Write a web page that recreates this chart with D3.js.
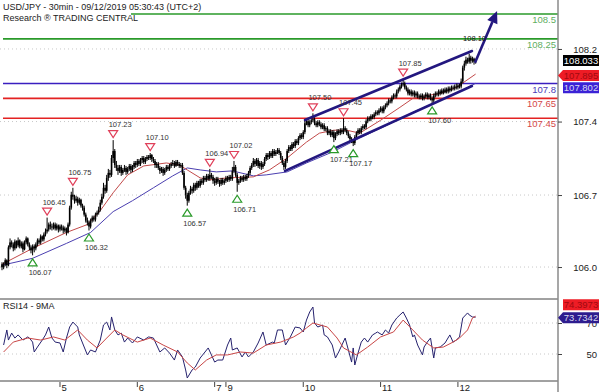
<!DOCTYPE html>
<html>
<head>
<meta charset="utf-8">
<script src="https://cdn.jsdelivr.net/npm/d3@7"></script>
<style>
  body { margin: 0; background: #fff; }
  svg { display: block; font-family: "Liberation Sans", Arial, sans-serif; }
</style>
</head>
<body>
<svg id="chart" width="600" height="392"></svg>
<script>
// ---- data (USD/JPY 30min, bar 0 = first candle) ----
var closes = [
  105.95,105.98,106.02,105.97,106.15,106.20,106.18,106.14,106.21,106.17,
  106.22,106.16,106.19,106.13,106.20,106.24,106.18,106.15,106.12,106.16,
  106.14,106.18,106.22,106.20,106.26,106.23,106.28,106.31,106.33,106.38,
  106.36,106.35,106.38,106.34,106.37,106.33,106.36,106.35,106.32,106.34,
  106.30,106.38,106.55,106.68,106.66,106.62,106.64,106.60,106.63,106.57,
  106.55,106.48,106.42,106.40,106.36,106.42,106.45,106.43,106.48,106.50,
  106.53,106.60,106.66,106.75,106.72,106.85,106.90,106.88,107.05,107.12,
  106.98,106.95,106.92,106.96,106.90,106.93,106.95,106.91,106.94,106.97,
  106.93,106.96,107.00,106.98,107.02,106.99,107.03,107.05,107.01,107.04,
  107.06,107.05,107.08,107.04,107.02,106.98,106.99,106.95,106.92,106.94,
  106.90,106.93,106.96,106.94,106.97,106.99,107.00,106.97,107.01,106.99,
  106.97,106.98,106.90,106.75,106.68,106.62,106.70,106.74,106.72,106.78,
  106.75,106.80,106.77,106.82,106.80,106.85,106.83,106.87,106.84,106.88,
  106.86,106.82,106.80,106.84,106.81,106.79,106.83,106.80,106.82,106.85,
  106.83,106.86,106.84,106.92,106.96,106.88,106.80,106.82,106.85,106.83,
  106.86,106.84,106.87,106.90,106.95,106.98,107.02,106.99,107.03,106.97,
  107.00,106.96,106.99,107.04,107.08,107.06,107.10,107.07,107.12,107.09,
  107.11,107.13,107.10,107.05,107.00,106.96,107.02,107.12,107.16,107.14,
  107.19,107.17,107.22,107.20,107.25,107.28,107.26,107.31,107.40,107.42,
  107.38,107.41,107.43,107.44,107.40,107.38,107.41,107.39,107.36,107.38,
  107.34,107.35,107.30,107.32,107.28,107.31,107.25,107.29,107.32,107.30,
  107.33,107.31,107.35,107.33,107.30,107.27,107.24,107.22,107.20,107.26,
  107.30,107.33,107.31,107.35,107.37,107.36,107.42,107.45,107.44,107.47,
  107.46,107.49,107.51,107.50,107.53,107.55,107.52,107.56,107.58,107.60,
  107.63,107.62,107.66,107.68,107.67,107.72,107.74,107.77,107.79,107.80,
  107.76,107.74,107.70,107.72,107.69,107.71,107.68,107.70,107.67,107.66,
  107.68,107.65,107.67,107.69,107.66,107.68,107.65,107.63,107.68,107.70,
  107.69,107.72,107.70,107.73,107.71,107.74,107.72,107.75,107.73,107.76,
  107.75,107.77,107.76,107.78,107.77,107.82,107.96,108.00,108.04,108.02,
  108.06,108.03,108.05,108.02,108.033
];
var highs = [
  106.00,106.00,106.04,106.03,106.17,106.24,106.22,106.20,106.23,106.22,
  106.25,106.23,106.21,106.21,106.22,106.26,106.25,106.20,106.17,106.18,
  106.18,106.20,106.24,106.24,106.28,106.27,106.30,106.34,106.45,106.40,
  106.41,106.39,106.40,106.40,106.39,106.38,106.38,106.38,106.37,106.36,
  106.35,106.40,106.57,106.71,106.75,106.68,106.67,106.66,106.65,106.64,
  106.59,106.57,106.50,106.45,106.42,106.44,106.47,106.47,106.50,106.52,
  106.56,106.63,106.69,106.80,106.78,106.88,106.94,106.93,107.08,107.23,
  107.14,107.02,106.98,106.98,106.98,106.95,106.98,106.97,106.96,106.99,
  106.99,106.98,107.02,107.02,107.04,107.04,107.05,107.07,107.07,107.06,
  107.08,107.08,107.10,107.09,107.06,107.04,107.01,107.01,106.97,106.96,
  106.96,106.95,106.98,106.98,106.99,107.01,107.03,107.02,107.03,107.03,
  107.01,107.00,107.00,106.92,106.77,106.70,106.72,106.77,106.76,106.80,
  106.80,106.82,106.82,106.84,106.84,106.87,106.87,106.89,106.89,106.94,
  106.90,106.88,106.85,106.86,106.86,106.83,106.85,106.85,106.84,106.87,
  106.87,106.88,106.88,106.96,107.02,106.98,106.90,106.84,106.87,106.87,
  106.88,106.88,106.89,106.92,106.97,107.00,107.05,107.04,107.05,107.05,
  107.02,107.02,107.01,107.06,107.10,107.10,107.12,107.12,107.14,107.14,
  107.13,107.15,107.15,107.12,107.07,107.02,107.04,107.14,107.18,107.18,
  107.21,107.21,107.24,107.24,107.27,107.30,107.30,107.33,107.43,107.45,
  107.44,107.43,107.45,107.50,107.46,107.42,107.43,107.43,107.41,107.40,
  107.40,107.37,107.37,107.34,107.34,107.33,107.33,107.31,107.34,107.34,
  107.35,107.35,107.45,107.37,107.35,107.32,107.29,107.26,107.24,107.28,
  107.32,107.35,107.35,107.37,107.39,107.39,107.44,107.47,107.47,107.49,
  107.49,107.51,107.53,107.53,107.55,107.57,107.57,107.58,107.60,107.62,
  107.65,107.65,107.68,107.70,107.70,107.74,107.76,107.79,107.81,107.85,
  107.82,107.78,107.76,107.74,107.74,107.73,107.73,107.72,107.72,107.69,
  107.70,107.70,107.69,107.71,107.71,107.70,107.70,107.67,107.70,107.72,
  107.72,107.74,107.74,107.75,107.75,107.76,107.76,107.77,107.77,107.78,
  107.78,107.79,107.80,107.80,107.80,107.85,107.98,108.03,108.07,108.06,
  108.10,108.08,108.07,108.06,108.05
];
var lows = [
  105.92,105.93,105.96,105.94,105.96,106.13,106.15,106.11,106.12,106.14,
  106.15,106.14,106.14,106.10,106.12,106.18,106.16,106.12,106.09,106.07,
  106.10,106.12,106.16,106.18,106.18,106.21,106.21,106.26,106.29,106.31,
  106.33,106.32,106.33,106.32,106.32,106.30,106.31,106.32,106.29,106.30,
  106.27,106.29,106.36,106.53,106.63,106.59,106.60,106.57,106.58,106.55,
  106.52,106.46,106.40,106.37,106.32,106.34,106.40,106.41,106.41,106.46,
  106.48,106.51,106.58,106.64,106.69,106.70,106.82,106.85,106.86,107.00,
  106.95,106.92,106.88,106.90,106.87,106.88,106.91,106.88,106.89,106.92,
  106.90,106.91,106.94,106.95,106.96,106.97,106.97,107.00,106.99,106.99,
  107.02,107.03,107.03,107.01,107.00,106.95,106.95,106.93,106.89,106.90,
  106.87,106.88,106.91,106.92,106.92,106.95,106.97,106.95,106.96,106.97,
  106.95,106.95,106.88,106.73,106.64,106.57,106.60,106.68,106.69,106.70,
  106.72,106.73,106.75,106.75,106.78,106.78,106.81,106.81,106.82,106.82,
  106.84,106.79,106.77,106.78,106.79,106.76,106.77,106.78,106.78,106.80,
  106.81,106.81,106.82,106.82,106.90,106.86,106.71,106.78,106.80,106.81,
  106.81,106.82,106.82,106.85,106.88,106.93,106.96,106.96,106.97,106.95,
  106.94,106.93,106.94,106.97,107.02,107.03,107.04,107.05,107.05,107.07,
  107.07,107.09,107.08,107.03,106.98,106.93,106.94,107.00,107.10,107.12,
  107.12,107.15,107.15,107.18,107.18,107.23,107.24,107.24,107.29,107.38,
  107.36,107.36,107.39,107.41,107.38,107.36,107.36,107.37,107.34,107.34,
  107.32,107.32,107.28,107.28,107.26,107.26,107.21,107.23,107.27,107.28,
  107.28,107.29,107.29,107.31,107.28,107.25,107.22,107.20,107.17,107.18,
  107.24,107.28,107.29,107.29,107.33,107.34,107.34,107.40,107.42,107.42,
  107.44,107.44,107.47,107.48,107.48,107.51,107.50,107.50,107.54,107.56,
  107.58,107.60,107.60,107.64,107.65,107.65,107.70,107.72,107.75,107.77,
  107.74,107.72,107.68,107.68,107.67,107.67,107.66,107.66,107.65,107.64,
  107.64,107.63,107.63,107.65,107.64,107.64,107.63,107.60,107.61,107.66,
  107.67,107.67,107.68,107.69,107.69,107.70,107.70,107.70,107.71,107.72,
  107.73,107.73,107.74,107.74,107.75,107.75,107.80,107.93,107.98,108.00,
  108.00,108.00,108.01,107.99,108.00
];
var firstOpen = 105.98;

// moving averages (red = fast, blue = slow), sampled along the picture
var maFastBar = [0,19,40,53,61,69,78,88,102,110,115,123,129,140,156,166,177,189,197,206,214,222,235,247,255,264,272,282,294];
var maFastVal = [105.98,106.14,106.30,106.38,106.52,106.70,106.88,106.97,107.00,106.98,106.93,106.85,106.83,106.85,106.86,106.93,107.05,107.21,107.30,107.33,107.33,107.30,107.43,107.56,107.65,107.68,107.70,107.76,107.895];
var maSlowBar = [0,19,40,55,69,81,94,106,115,123,133,143,156,164,177,189,205,222,239,255,272,283,294];
var maSlowVal = [105.97,106.04,106.19,106.30,106.51,106.62,106.75,106.87,106.95,106.93,106.91,106.92,106.87,106.88,106.91,107.00,107.11,107.25,107.38,107.51,107.63,107.71,107.802];

// key levels
var levelVals = [108.5, 108.25, 107.8, 107.65, 107.45];
var levelLabels = ['108.5', '108.25', '107.8', '107.65', '107.45'];
var levelKinds = ['res', 'res', 'pivot', 'sup', 'sup'];

// swing highs / lows
var pivotHighBar = [28, 44, 69, 92, 129, 144, 193, 212, 249];
var pivotHighVal = [106.45, 106.75, 107.23, 107.10, 106.94, 107.02, 107.50, 107.45, 107.85];
var pivotLowBar = [19, 54, 115, 146, 206, 218, 267];
var pivotLowVal = [106.07, 106.32, 106.57, 106.71, 107.21, 107.17, 107.60];
var lastHighBar = 289, lastHighVal = 108.10;

// channel and target arrow [bar, price]
var channelUpper = [[188.1, 107.433], [291.7, 108.127]];
var channelLower = [[175.7, 106.92], [291.7, 107.775]];
var targetArrow = [[293.6, 108.01], [307.3, 108.53]];

// axes
var priceTicks = [108.148, 107.417, 106.677, 105.952];
var priceTickLabels = ['108.2', '107.4', '106.7', '106.0'];
var rsiTicks = [70, 50];
var rsiTickLabels = ['70', '50'];
var dayBars = [36, 84, 132, 139, 187, 235, 283];
var dayLabels = ['5', '6', '7', '9', '10', '11', '12'];

// RSI14 and its 9MA, sampled along the picture
var rsiBar = [1,3,4,6,8,10,13,16,17,19,20,22,25,27,29,31,33,36,38,40,42,44,47,48,50,53,55,58,61,63,65,67,68,70,72,74,76,78,81,84,88,91,94,96,98,101,104,107,109,112,114,115,118,120,123,126,128,130,132,134,137,140,142,143,146,149,151,153,156,159,162,164,168,169,171,174,176,179,182,185,187,189,191,193,194,196,199,200,202,205,207,209,211,213,215,217,218,219,221,223,225,227,230,232,233,236,238,240,242,245,247,249,251,253,255,256,258,261,262,264,266,268,269,272,275,278,280,282,284,286,289,290,292,294];
var rsiVal = [55.8,65.5,59.0,63.5,60.3,62.3,59.0,61.0,60.3,57.7,51.3,54.5,59.0,62.3,67.4,60.3,57.7,57.1,51.3,60.3,67.4,70.6,67.4,62.3,57.1,49.4,52.6,51.3,59.0,68.7,70.6,65.5,73.9,65.5,62.3,63.5,57.7,60.3,57.1,61.0,59.0,61.0,60.3,55.8,51.3,53.9,50.6,46.1,52.6,48.1,39.7,34.5,39.7,41.6,47.4,51.3,53.9,49.4,44.8,46.1,46.1,55.8,60.3,52.6,53.9,48.1,51.3,48.1,51.3,57.1,64.2,55.8,57.7,57.1,65.5,65.5,55.8,61.0,67.4,66.8,64.2,71.9,77.1,80.3,70.0,67.4,68.7,62.3,61.0,55.8,47.4,51.3,55.8,60.3,52.6,44.8,53.9,42.9,50.6,57.7,60.3,57.7,62.3,63.5,64.2,62.3,65.5,63.5,68.7,73.2,75.2,77.1,73.2,68.7,61.0,62.3,55.8,49.4,54.5,57.7,60.3,47.4,53.9,54.5,57.1,62.3,57.7,59.0,61.0,73.2,76.5,75.2,73.9,73.7342];
var rsiMaBar = [1,7,16,24,32,39,47,53,59,65,70,75,84,92,100,109,115,120,127,133,140,148,156,164,173,181,185,189,193,202,208,212,220,227,235,243,249,255,261,268,274,280,284,289,292,294];
var rsiMaVal = [51.3,57.7,60.3,59.0,61.0,59.0,65.5,59.0,53.9,60.3,65.5,62.3,57.7,60.3,55.8,51.3,44.2,39.7,46.1,49.4,49.4,51.3,50.6,55.8,57.7,61.0,63.5,66.8,70.0,67.4,60.3,53.9,49.4,54.5,61.0,64.2,71.9,65.5,59.0,53.9,54.5,57.7,60.3,65.5,73.2,74.3973];

// ---- layout ----
var svg = d3.select('#chart'),
  axisX = 558,
  x = d3.scaleLinear().domain([0, 294]).range([2, 2 + 294 * 1.611]),
  y = d3.scaleLinear().domain([105.9, 108.5]).range([272.2, 14]),
  yR = d3.scaleLinear().domain([50, 70]).range([354, 323]),
  levelColor = { res: '#2a9a2a', pivot: '#3a1fc0', sup: '#e32222' },
  levelText = { res: '#5fae5f', pivot: '#4a3ab8', sup: '#d44848' },
  navy = '#23177f';

// dotted grid
svg.append('g').selectAll('line').data(priceTicks).enter().append('line')
  .attr('x1', 0).attr('x2', axisX).attr('y1', (d) => y(d)).attr('y2', (d) => y(d))
  .attr('stroke', '#c8c8c8').attr('stroke-dasharray', '1,3');
svg.append('g').selectAll('line').data(rsiTicks).enter().append('line')
  .attr('x1', 0).attr('x2', axisX).attr('y1', (d) => yR(d)).attr('y2', (d) => yR(d))
  .attr('stroke', '#c8c8c8').attr('stroke-dasharray', '1,3');

// key levels
var lv = svg.append('g');
lv.selectAll('line').data(levelVals).enter().append('line')
  .attr('x1', 3).attr('x2', axisX).attr('y1', (d) => y(d)).attr('y2', (d) => y(d))
  .attr('stroke', (d, i) => levelColor[levelKinds[i]]).attr('stroke-width', 1.6);
lv.selectAll('text').data(levelVals).enter().append('text')
  .attr('x', axisX - 2).attr('y', (d) => y(d) + 9)
  .attr('text-anchor', 'end').attr('font-size', 9.5)
  .attr('fill', (d, i) => levelText[levelKinds[i]])
  .text((d, i) => levelLabels[i]);

// moving averages
var maLine = d3.line().x((d) => x(d[0])).y((d) => y(d[1]));
svg.append('path').datum(d3.zip(maSlowBar, maSlowVal)).attr('d', maLine)
  .attr('fill', 'none').attr('stroke', '#4b3fb0').attr('stroke-width', 1);
svg.append('path').datum(d3.zip(maFastBar, maFastVal)).attr('d', maLine)
  .attr('fill', 'none').attr('stroke', '#c24a4a').attr('stroke-width', 1);

// candles
var bars = closes.map((c, i) => ({ i: i, o: i ? closes[i - 1] : firstOpen, c: c, h: highs[i], l: lows[i] }));
var cg = svg.append('g');
cg.selectAll('line').data(bars).enter().append('line')
  .attr('x1', (d) => x(d.i)).attr('x2', (d) => x(d.i))
  .attr('y1', (d) => y(d.h)).attr('y2', (d) => y(d.l))
  .attr('stroke', '#000').attr('stroke-width', 1);
cg.selectAll('rect').data(bars).enter().append('rect')
  .attr('x', (d) => x(d.i) - 0.8).attr('width', 1.6)
  .attr('y', (d) => y(Math.max(d.o, d.c)))
  .attr('height', (d) => Math.max(1, Math.abs(y(d.o) - y(d.c))))
  .attr('fill', '#000');

// channel and arrow
[channelUpper, channelLower].forEach(function (seg) {
  svg.append('line')
    .attr('x1', x(seg[0][0])).attr('y1', y(seg[0][1]))
    .attr('x2', x(seg[1][0])).attr('y2', y(seg[1][1]))
    .attr('stroke', navy).attr('stroke-width', 2.6).attr('stroke-linecap', 'round');
});
var ax0 = x(targetArrow[0][0]), ay0 = y(targetArrow[0][1]),
  ax1 = x(targetArrow[1][0]), ay1 = y(targetArrow[1][1]),
  ang = Math.atan2(ay1 - ay0, ax1 - ax0), hl = 12, hw = 5.5;
var bx = ax1 - hl * Math.cos(ang), by = ay1 - hl * Math.sin(ang);
svg.append('line').attr('x1', ax0).attr('y1', ay0).attr('x2', bx).attr('y2', by)
  .attr('stroke', navy).attr('stroke-width', 2.6);
svg.append('path')
  .attr('d', 'M' + ax1 + ',' + ay1 +
    'L' + (bx + hw * Math.sin(ang)) + ',' + (by - hw * Math.cos(ang)) +
    'L' + (bx - hw * Math.sin(ang)) + ',' + (by + hw * Math.cos(ang)) + 'Z')
  .attr('fill', navy);

// swing markers
var pg = svg.append('g').attr('font-size', 7.5).attr('fill', '#333').attr('text-anchor', 'middle');
pivotHighBar.forEach(function (b, k) {
  var px = x(b), py = y(pivotHighVal[k]);
  pg.append('path').attr('d', 'M' + (px - 4.5) + ',' + (py - 9.5) + 'h9l-4.5,7z')
    .attr('fill', '#fff').attr('stroke', '#e0405a').attr('stroke-width', 1.2);
  pg.append('text').attr('x', px + 7).attr('y', py - 13).text(pivotHighVal[k].toFixed(2));
});
pivotLowBar.forEach(function (b, k) {
  var px = x(b), py = y(pivotLowVal[k]);
  pg.append('path').attr('d', 'M' + px + ',' + (py + 3.5) + 'l4.5,7h-9z')
    .attr('fill', '#fff').attr('stroke', '#2a9a2a').attr('stroke-width', 1.2);
  pg.append('text').attr('x', px + 7.5).attr('y', py + 20).text(pivotLowVal[k].toFixed(2));
});
pg.append('text').attr('x', x(lastHighBar) + 7).attr('y', y(lastHighVal) - 13)
  .attr('fill', '#111').text(lastHighVal.toFixed(2));

// title
var tg = svg.append('g').attr('font-size', 9).attr('fill', '#222');
tg.append('rect').attr('x', 0).attr('y', 12).attr('width', 131).attr('height', 10).attr('fill', '#fff');
tg.append('text').attr('x', 3).attr('y', 10).text('USD/JPY - 30min - 09/12/2019 05:30:43 (UTC+2)');
tg.append('text').attr('x', 3).attr('y', 20.5).text('Research \u00ae TRADING CENTRAL');

// RSI panel
svg.append('line').attr('x1', 0).attr('x2', axisX).attr('y1', 299).attr('y2', 299).attr('stroke', '#444');
svg.append('line').attr('x1', 0).attr('x2', axisX).attr('y1', 381).attr('y2', 381).attr('stroke', '#444');
svg.append('text').attr('x', 3).attr('y', 309).attr('font-size', 9).attr('fill', '#222').text('RSI14 - 9MA');
var rLine = d3.line().x((d) => x(d[0])).y((d) => yR(d[1]));
svg.append('path').datum(d3.zip(rsiBar, rsiVal)).attr('d', rLine)
  .attr('fill', 'none').attr('stroke', '#26226e').attr('stroke-width', 1);
svg.append('path').datum(d3.zip(rsiMaBar, rsiMaVal)).attr('d', rLine)
  .attr('fill', 'none').attr('stroke', '#c84646').attr('stroke-width', 1);

// right axis
svg.append('line').attr('x1', axisX).attr('x2', axisX).attr('y1', 0).attr('y2', 392)
  .attr('stroke', '#8a8a8a').attr('stroke-width', 1.5);
var yAxis = d3.axisRight(y).tickValues(priceTicks).tickSize(4)
  .tickFormat((d, i) => priceTickLabels[i]);
var rAxis = d3.axisRight(yR).tickValues(rsiTicks).tickSize(4)
  .tickFormat((d, i) => rsiTickLabels[i]);
[yAxis, rAxis].forEach(function (a) {
  var g = svg.append('g').attr('transform', 'translate(' + axisX + ',0)').call(a);
  g.select('.domain').remove();
  g.selectAll('line').attr('stroke', '#444');
  g.selectAll('text').attr('x', 39).attr('text-anchor', 'end')
    .attr('font-size', 9.5).attr('fill', '#222').attr('font-family', null);
});

// bottom axis (days)
var xg = svg.append('g');
xg.selectAll('line').data(dayBars).enter().append('line')
  .attr('x1', (d) => x(d)).attr('x2', (d) => x(d)).attr('y1', 382).attr('y2', 387)
  .attr('stroke', '#444');
xg.selectAll('text').data(dayBars).enter().append('text')
  .attr('x', (d) => x(d) + 1.5).attr('y', 391).attr('font-size', 9.5).attr('fill', '#222')
  .text((d, i) => dayLabels[i]);

// last-value tags
function tag(yc, label, fill, color, arrow) {
  var g = svg.append('g');
  var p = arrow
    ? 'M' + axisX + ',' + yc + 'L563,' + (yc - 5.5) + 'H599V' + (yc + 5.5) + 'H563Z'
    : 'M563,' + (yc - 5.5) + 'H599V' + (yc + 5.5) + 'H563Z';
  g.append('path').attr('d', p).attr('fill', fill);
  g.append('text').attr('x', 581).attr('y', yc + 3.5).attr('text-anchor', 'middle')
    .attr('font-size', 9.5).attr('fill', color).text(label);
}
tag(y(closes[closes.length - 1]), closes[closes.length - 1].toFixed(3), '#000', '#fff', false);
tag(y(maFastVal[maFastVal.length - 1]) + 1.5, maFastVal[maFastVal.length - 1].toFixed(3), '#ee1c25', '#a10a10', true);
tag(y(maSlowVal[maSlowVal.length - 1]) + 4.5, maSlowVal[maSlowVal.length - 1].toFixed(3), '#3b22d6', '#d8d8f0', false);
tag(yR(rsiMaVal[rsiMaVal.length - 1]) - 11.5, rsiMaVal[rsiMaVal.length - 1].toFixed(4), '#ee1c25', '#a10a10', false);
tag(yR(rsiVal[rsiVal.length - 1]) + 0.5, rsiVal[rsiVal.length - 1].toFixed(4), '#2e1c8e', '#d8d8f0', true);
</script>
</body>
</html>
